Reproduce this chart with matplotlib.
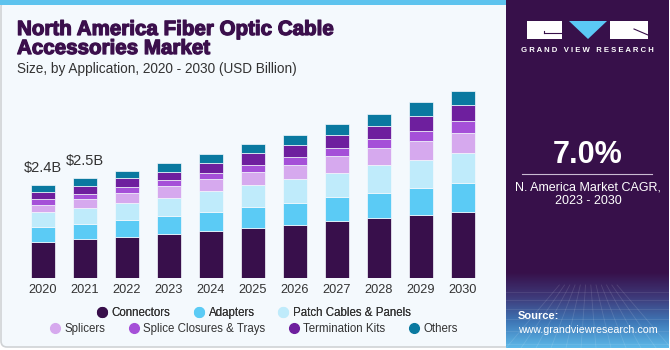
import numpy as np
import matplotlib
matplotlib.use("Agg")
import matplotlib.pyplot as plt
import matplotlib.patheffects as pe
from matplotlib.patches import Rectangle, FancyBboxPatch, Polygon
from matplotlib.lines import Line2D
from matplotlib.colors import LinearSegmentedColormap

plt.rcParams['font.family'] = ['Liberation Sans', 'DejaVu Sans']

# data (USD Billion)
years = ["2020", "2021", "2022", "2023", "2024", "2025", "2026", "2027", "2028", "2029", "2030"]
segments = ["Connectors", "Adapters", "Patch Cables & Panels", "Splicers",
            "Splice Closures & Trays", "Termination Kits", "Others"]
connectors = [0.92, 0.98, 1.05, 1.11, 1.19, 1.27, 1.34, 1.44, 1.52, 1.59, 1.67]
adapters = [0.36, 0.39, 0.42, 0.46, 0.49, 0.52, 0.57, 0.60, 0.63, 0.68, 0.73]
patch_cables = [0.39, 0.39, 0.42, 0.46, 0.52, 0.56, 0.59, 0.63, 0.70, 0.72, 0.77]
splicers = [0.19, 0.23, 0.27, 0.30, 0.30, 0.33, 0.37, 0.41, 0.44, 0.48, 0.51]
closures = [0.13, 0.13, 0.14, 0.14, 0.17, 0.18, 0.19, 0.21, 0.23, 0.25, 0.30]
termination = [0.19, 0.22, 0.22, 0.22, 0.24, 0.30, 0.31, 0.33, 0.34, 0.39, 0.39]
others = [0.17, 0.19, 0.18, 0.22, 0.24, 0.24, 0.26, 0.29, 0.30, 0.34, 0.37]
labels = {0: "$2.4B", 1: "$2.5B"}

colors = ["#380F4B", "#5BCBF5", "#BFEBFB", "#D6A9EE", "#A550D8", "#6E1F9E", "#0A79A0"]
bg = "#F4F9FD"
purple = "#37104A"

fig = plt.figure(figsize=(6.7, 3.5), dpi=100)

# background layer in pixel coords
back = fig.add_axes([0, 0, 1, 1], zorder=0)
back.set_xlim(0, 670)
back.set_ylim(350, 0)
back.axis("off")
back.add_patch(FancyBboxPatch((1, 1), 666, 346, boxstyle="round,pad=0,rounding_size=6",
                              fc=bg, ec="#D0D3D6", lw=1.2))
back.add_patch(Rectangle((0, 0), 506, 5, fc="#5DC3EE", ec="none"))
back.add_patch(FancyBboxPatch((506, 0), 163, 348, boxstyle="round,pad=0,rounding_size=6",
                              fc=purple, ec="none"))
back.add_patch(Rectangle((506, 0), 20, 348, fc=purple, ec="none"))
back.add_patch(Rectangle((506, 0), 163, 20, fc=purple, ec="none"))

# gradient at the bottom of the side panel
grad = np.linspace(0, 1, 100)[:, None]
cmap = LinearSegmentedColormap.from_list("g", [purple, "#3E3A7A", "#3F79B8", "#5DB8E8"])
back.imshow(grad, cmap=cmap, extent=(506, 669, 348, 272), aspect="auto", zorder=1)
for k in range(12):
    xs = 506 + k * 15
    back.plot([xs, 588 + (xs - 588) * 0.35], [348, 285], color="white", alpha=0.12, lw=0.6, zorder=2)
for yy in [292, 300, 309, 319, 331, 344]:
    back.plot([506, 669], [yy, yy], color="white", alpha=0.1, lw=0.6, zorder=2)

# logo
back.add_patch(Rectangle((527, 21), 35, 18, fc="white", ec="none", zorder=3))
back.plot([544, 561], [33, 33], color=purple, lw=0.8, zorder=4)
back.plot([544, 544], [31, 33], color=purple, lw=0.8, zorder=4)
back.add_patch(Polygon([[569, 21], [607, 21], [588, 39]], closed=True, fc="#5BC8F5", ec="none", zorder=3))
back.add_patch(Rectangle((610, 21), 38, 18, fc="white", ec="none", zorder=3))
back.plot([634, 648], [29, 35], color=purple, lw=0.8, zorder=4)
back.text(587, 51, "G R A N D   V I E W   R E S E A R C H", color="white", fontsize=5.6,
          fontweight="bold", ha="center", va="center", zorder=4)

# side panel texts
back.text(588, 155, "7.0%", color="white", fontsize=22, fontweight="bold", ha="center", va="center")
back.plot([522, 652], [174, 174], color="#C9BBD2", lw=0.8)
back.text(588, 187, "N. America Market CAGR,", color="white", fontsize=9, ha="center", va="center")
back.text(588, 201, "2023 - 2030", color="white", fontsize=9, ha="center", va="center")
back.text(518, 316, "Source:", color="white", fontsize=8, fontweight="bold", ha="left", va="center", zorder=4)
back.text(518, 330, "www.grandviewresearch.com", color="white", fontsize=7.7, ha="left", va="center", zorder=4)

# titles
heavy = [pe.withStroke(linewidth=0.9, foreground="#3B0F4C")]
back.text(17, 35, "North America Fiber Optic Cable", color="#3B0F4C", fontsize=14.8,
          fontweight="bold", ha="left", va="baseline", path_effects=heavy)
back.text(17, 54, "Accessories Market", color="#3B0F4C", fontsize=14.8,
          fontweight="bold", ha="left", va="baseline", path_effects=heavy)
back.text(17, 73, "Size, by Application, 2020 - 2030 (USD Billion)", color="#333333",
          fontsize=9.8, ha="left", va="baseline")

# bars
ax = fig.add_axes([22 / 670, 72 / 350, 462 / 670, 198 / 350], zorder=2)
ax.patch.set_alpha(0)
x = np.arange(len(years))
series = [connectors, adapters, patch_cables, splicers, closures, termination, others]
bottom = np.zeros(len(years))
for name, vals, c in zip(segments, series, colors):
    ax.bar(x, vals, width=0.57, bottom=bottom, color=c, edgecolor=bg, linewidth=0.5, label=name)
    bottom += np.array(vals)

for i, txt in labels.items():
    ax.annotate(txt, (x[i], bottom[i]), xytext=(0, 7), textcoords="offset points",
                ha="center", va="bottom", fontsize=10.5, color="#333333")

ax.set_xlim(-0.5, 10.5)
ax.set_ylim(0, 198 / 39.5)
ax.set_xticks(x)
ax.set_xticklabels(years, fontsize=9.2, color="#333333")
ax.tick_params(axis="x", length=0, pad=4)
ax.set_yticks([])
for s in ax.spines.values():
    s.set_visible(False)

# legend in two rows
handles = [Line2D([], [], marker="o", ls="none", markersize=7, color=c) for c in colors]
leg1 = fig.legend(handles[:3], segments[:3], loc="center", bbox_to_anchor=(253 / 670, 1 - 313 / 350),
                  ncol=3, frameon=False, fontsize=8.3, handletextpad=0.2, columnspacing=1.9,
                  handlelength=1.2, borderpad=0)
for t in leg1.get_texts():
    t.set_color("#333333")
leg2 = fig.legend(handles[3:], segments[3:], loc="center", bbox_to_anchor=(253 / 670, 1 - 329 / 350),
                  ncol=4, frameon=False, fontsize=8.3, handletextpad=0.2, columnspacing=1.9,
                  handlelength=1.2, borderpad=0)
for t in leg2.get_texts():
    t.set_color("#333333")
fig.add_artist(leg1)

fig.savefig("out.png", dpi=100, facecolor="white")
